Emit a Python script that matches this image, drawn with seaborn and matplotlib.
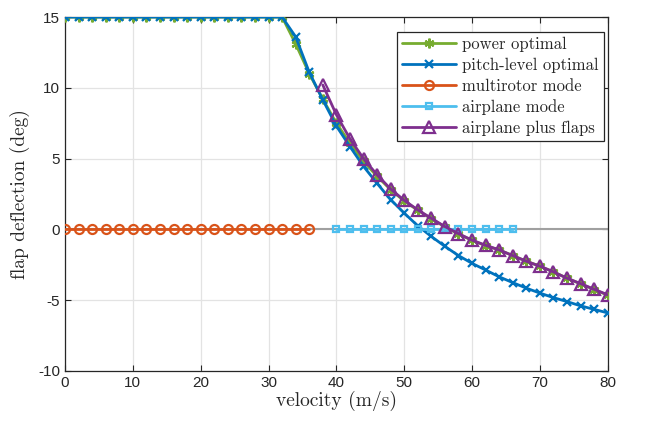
import numpy as np
import pandas as pd
import seaborn as sns
import matplotlib.pyplot as plt

# data
v_opt = list(range(0, 82, 2))
power_optimal = [15] * 17 + [13.1, 11.0, 9.2, 7.5, 6.1, 4.8, 3.75, 2.8, 2.0, 1.35,
                             0.75, 0.17, -0.33, -0.78, -1.15, -1.45, -1.85, -2.25,
                             -2.6, -3.0, -3.45, -3.85, -4.25, -4.65]
pitch_level = [15] * 17 + [13.6, 11.1, 9.15, 7.3, 5.85, 4.45, 3.25, 2.1, 1.15, 0.25,
                           -0.5, -1.2, -1.85, -2.4, -2.87, -3.35, -3.76, -4.15,
                           -4.5, -4.82, -5.1, -5.4, -5.65, -5.9]
v_multi = list(range(0, 38, 2))
multirotor = [0] * len(v_multi)
v_plane = list(range(40, 68, 2))
airplane = [0] * len(v_plane)
v_flaps = list(range(38, 82, 2))
flaps = [10.2, 8.1, 6.4, 5.0, 3.85, 2.85, 2.05, 1.38, 0.78, 0.2, -0.3, -0.76, -1.12,
         -1.45, -1.85, -2.25, -2.6, -3.0, -3.45, -3.83, -4.23, -4.62]

sns.set_style("ticks")
plt.rcParams["font.family"] = ["Liberation Sans", "DejaVu Sans"]
plt.rcParams["axes.unicode_minus"] = False

fig = plt.figure(figsize=(6.48, 4.22), dpi=100)
ax = fig.add_axes([0.1003, 0.1209, 0.8376, 0.8388])

ax.axhline(0, color="#a0a0a0", lw=1.5, zorder=1)

asterisk = (6, 2, 0)
series = [
    (v_opt, power_optimal, "power optimal", "#77AC30", asterisk, 7),
    (v_opt, pitch_level, "pitch-level optimal", "#0072BD", "x", 5.5),
    (v_multi, multirotor, "multirotor mode", "#D95319", "o", 6.5),
    (v_plane, airplane, "airplane mode", "#4DBEEE", "s", 5),
    (v_flaps, flaps, "airplane plus flaps", "#7E2F8E", "^", 8),
]
for x, y, lab, col, mk, ms in series:
    df = pd.DataFrame({"v": x, "d": y})
    sns.lineplot(data=df, x="v", y="d", ax=ax, color=col, lw=2, marker=mk,
                 markersize=ms, mew=1.6, mfc="none" if mk in ("o", "s", "^") else col,
                 mec=col, label=lab, estimator=None, sort=False, zorder=3)

ax.set_xlim(0, 80)
ax.set_ylim(-10, 15)
ax.set_xticks(range(0, 81, 10))
ax.set_yticks(range(-10, 16, 5))
ax.grid(True, color="#e3e3e3", lw=0.9)
ax.set_axisbelow(True)
for s in ax.spines.values():
    s.set_color("#262626")
    s.set_linewidth(0.9)
ax.tick_params(direction="in", top=True, right=True, labelsize=11,
               colors="#262626", length=4)

ax.set_xlabel("velocity (m/s)", family="cmr10", fontsize=14, labelpad=1)
ax.set_ylabel("flap deflection (deg)", family="cmr10", fontsize=14, labelpad=6)

leg = ax.legend(loc="upper right", bbox_to_anchor=(0.9926, 0.9576),
                prop={"family": "cmr10", "size": 12},
                fancybox=False, edgecolor="#262626", framealpha=1,
                handlelength=3.2, borderaxespad=0.0, labelspacing=0.33,
                borderpad=0.3, handletextpad=0.4)
leg.get_frame().set_linewidth(0.9)

fig.savefig("out.png", dpi=100)
